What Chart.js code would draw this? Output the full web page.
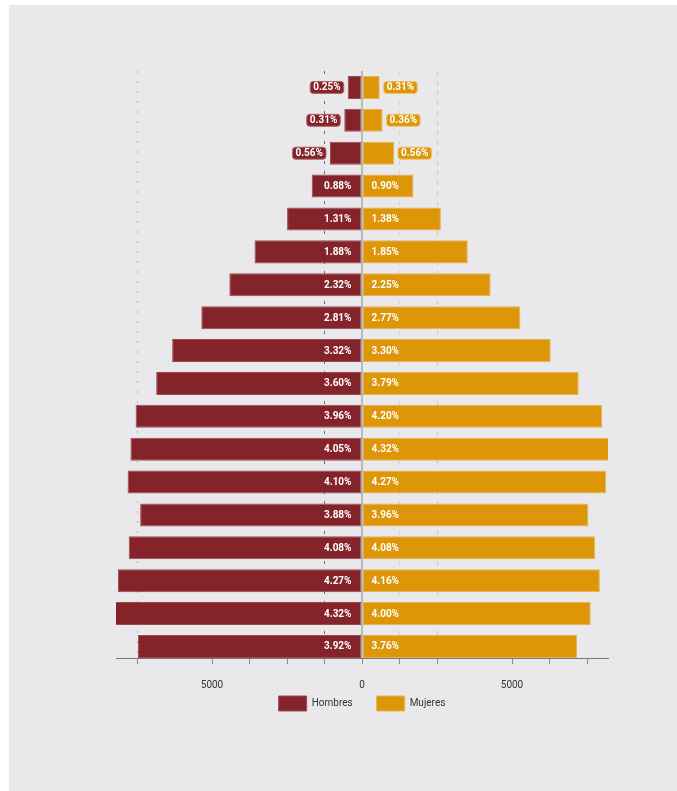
<!DOCTYPE html>
<html>
<head>
<meta charset="utf-8">
<script src="https://cdn.jsdelivr.net/npm/chart.js@4.4.1/dist/chart.umd.min.js"></script>
<style>
html,body{margin:0;padding:0;background:#ffffff;overflow:hidden;width:677px;height:791px;}
#bg{position:absolute;left:9px;top:5px;right:0;bottom:0;background:#e9e9ec;}
canvas{position:absolute;left:0;top:0;}
</style>
</head>
<body>
<div id="bg"></div>
<canvas id="c" width="677" height="791"></canvas>
<script>
// ---- data ----
const categories = ['85 años o más','80 a 84 años','75 a 79 años','70 a 74 años','65 a 69 años','60 a 64 años','55 a 59 años','50 a 54 años','45 a 49 años','40 a 44 años','35 a 39 años','30 a 34 años','25 a 29 años','20 a 24 años','15 a 19 años','10 a 14 años','5 a 9 años','0 a 4 años'];
const hombres = [-476, -591, -1067, -1677, -2497, -3583, -4422, -5356, -6328, -6861, -7547, -7719, -7814, -7395, -7776, -8138, -8234, -7471];
const mujeres = [591, 686, 1067, 1715, 2630, 3526, 4288, 5279, 6290, 7223, 8005, 8234, 8138, 7547, 7776, 7929, 7624, 7166];
const hombresPct = ['0.25%','0.31%','0.56%','0.88%','1.31%','1.88%','2.32%','2.81%','3.32%','3.60%','3.96%','4.05%','4.10%','3.88%','4.08%','4.27%','4.32%','3.92%'];
const mujeresPct = ['0.31%','0.36%','0.56%','0.90%','1.38%','1.85%','2.25%','2.77%','3.30%','3.79%','4.20%','4.32%','4.27%','3.96%','4.08%','4.16%','4.00%','3.76%'];
const xTickValues = [-7500, -5000, -3750, -2500, -1250, 0, 1250, 2500, 5000, 6250, 7500];
const xTickLabels = ['', '5000', '', '', '', '0', '', '', '5000', '', ''];
const seriesNames = ['Hombres', 'Mujeres'];

// ---- styles ----
const MEN = '#84232a', WOMEN = '#dc9608';
const gridStyle = {
  '-7500': {color: '#b9b9bd', dash: [2, 8]},
  '-1250': {color: '#6f6f73', dash: [3, 7]},
  '1250': {color: '#d3d3d7', dash: [4, 6]},
  '2500': {color: '#c9c9cd', dash: [4, 6]}
};

function roundRect(ctx, x, y, w, h, r) {
  ctx.beginPath();
  ctx.moveTo(x + r, y);
  ctx.lineTo(x + w - r, y);
  ctx.quadraticCurveTo(x + w, y, x + w, y + r);
  ctx.lineTo(x + w, y + h - r);
  ctx.quadraticCurveTo(x + w, y + h, x + w - r, y + h);
  ctx.lineTo(x + r, y + h);
  ctx.quadraticCurveTo(x, y + h, x, y + h - r);
  ctx.lineTo(x, y + r);
  ctx.quadraticCurveTo(x, y, x + r, y);
  ctx.closePath();
}

const labelPlugin = {
  id: 'barLabels',
  afterDatasetsDraw(chart) {
    const ctx = chart.ctx;
    const xs = chart.scales.x;
    const area = chart.chartArea;
    const x0 = xs.getPixelForValue(0);
    ctx.save();
    ctx.strokeStyle = '#a9a9ad';
    ctx.lineWidth = 1.5;
    ctx.beginPath();
    ctx.moveTo(x0, area.top);
    ctx.lineTo(x0, area.bottom);
    ctx.stroke();

    ctx.font = 'bold 10px Roboto';
    ctx.textBaseline = 'middle';
    const pctSets = [hombresPct, mujeresPct];
    const boxFill = [MEN, WOMEN];
    const boxStroke = ['#b0666b', '#efc26a'];
    chart.data.datasets.forEach((ds, di) => {
      const meta = chart.getDatasetMeta(di);
      meta.data.forEach((bar, i) => {
        const txt = pctSets[di][i];
        const w = Math.abs(bar.x - bar.base);
        const tw = ctx.measureText(txt).width;
        const isLeft = bar.x < bar.base;
        const y = bar.y;
        if (w > tw + 16) {
          ctx.fillStyle = '#ffffff';
          if (isLeft) { ctx.textAlign = 'right'; ctx.fillText(txt, bar.base - 10, y + 0.5); }
          else { ctx.textAlign = 'left'; ctx.fillText(txt, bar.base + 9, y + 0.5); }
        } else {
          const bw = tw + 6, bh = 12;
          const bx = isLeft ? bar.x - 4 - bw : bar.x + 4;
          roundRect(ctx, bx, y - bh / 2, bw, bh, 3);
          ctx.fillStyle = boxFill[di];
          ctx.fill();
          ctx.lineWidth = 1;
          ctx.strokeStyle = boxStroke[di];
          ctx.stroke();
          ctx.fillStyle = '#ffffff';
          ctx.textAlign = 'center';
          ctx.fillText(txt, bx + bw / 2, y + 0.5);
        }
      });
    });
    ctx.restore();
  }
};

new Chart(document.getElementById('c'), {
  type: 'bar',
  data: {
    datasets: [
      {
        label: seriesNames[0],
        data: hombres.map((v, i) => ({x: v, y: i})),
        backgroundColor: MEN,
        borderColor: '#9c4a50',
        borderWidth: 1,
        borderSkipped: false,
        barPercentage: 0.7,
        categoryPercentage: 1
      },
      {
        label: seriesNames[1],
        data: mujeres.map((v, i) => ({x: v, y: i})),
        backgroundColor: WOMEN,
        borderColor: '#e9b350',
        borderWidth: 1,
        borderSkipped: false,
        barPercentage: 0.7,
        categoryPercentage: 1
      }
    ]
  },
  options: {
    indexAxis: 'y',
    responsive: false,
    animation: false,
    layout: {padding: {left: 116, right: 69, top: 71, bottom: 70}},
    scales: {
      x: {
        type: 'linear',
        stacked: true,
        min: -8200,
        max: 8200,
        afterBuildTicks: (s) => { s.ticks = xTickValues.map(v => ({value: v})); },
        afterFit: (s) => { s.height = 14; },
        ticks: {
          autoSkip: false,
          maxRotation: 0,
          mirror: true,
          padding: -33,
          color: '#333333',
          font: {family: 'Roboto', size: 10},
          callback: function (v, i) { return xTickLabels[i]; }
        },
        grid: {
          drawTicks: true,
          tickLength: 6,
          tickColor: '#8e8e92',
          tickWidth: 1,
          lineWidth: 1,
          color: (ctx) => {
            const t = ctx.tick; if (!t) return 'rgba(0,0,0,0)';
            const g = gridStyle[String(t.value)];
            return g ? g.color : 'rgba(0,0,0,0)';
          }
        },
        border: {
          display: true,
          color: '#77777b',
          width: 1,
          dash: (ctx) => {
            const t = ctx.tick; if (!t) return [];
            const g = gridStyle[String(t.value)];
            return g ? g.dash : [];
          }
        }
      },
      y: {
        type: 'linear',
        stacked: true,
        reverse: true,
        offset: false,
        min: -0.5,
        max: 17.35,
        afterBuildTicks: (s) => { s.ticks = categories.map((c, i) => ({value: i})); },
        afterFit: (s) => { s.width = 0; },
        ticks: {
          autoSkip: false,
          padding: 13,
          color: '#3a3a3a',
          font: {family: 'Roboto', size: 10},
          callback: (v) => categories[v]
        },
        grid: {display: false, drawTicks: false, offset: false},
        border: {display: false}
      }
    },
    plugins: {
      legend: {
        position: 'bottom',
        labels: {
          boxWidth: 28,
          boxHeight: 15,
          padding: 24,
          color: '#333333',
          font: {family: 'Roboto', size: 10}
        }
      },
      tooltip: {enabled: false}
    }
  },
  plugins: [labelPlugin]
});
</script>
</body>
</html>
